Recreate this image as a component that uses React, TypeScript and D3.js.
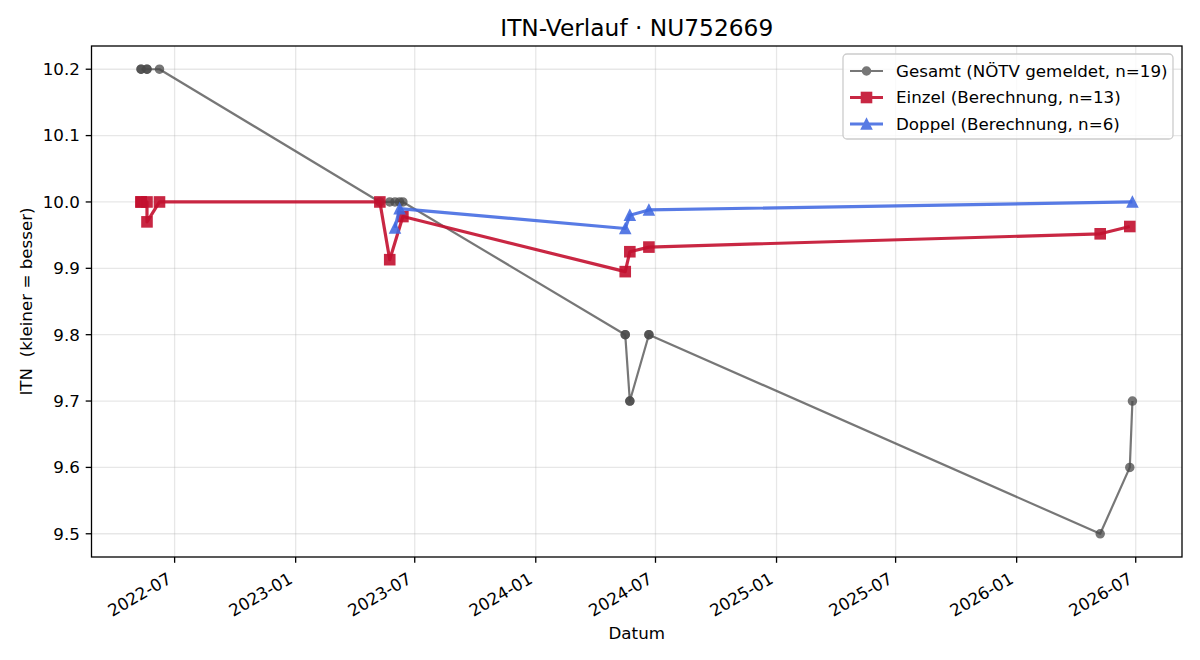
import React, { useEffect, useRef } from "react";
import * as d3 from "d3";

// Gesamt: ITN as reported by the federation, one entry per match
const gesamtDates = [
  "2022-05-11", "2022-05-11", "2022-05-20", "2022-05-20", "2022-06-08",
  "2023-05-09", "2023-05-24", "2023-06-01", "2023-06-08", "2023-06-13",
  "2024-05-16", "2024-05-16", "2024-05-23", "2024-05-23", "2024-06-21", "2024-06-21",
  "2026-05-08", "2026-06-22", "2026-06-26",
];
const gesamtValues = [
  10.2, 10.2, 10.2, 10.2, 10.2,
  10.0, 10.0, 10.0, 10.0, 10.0,
  9.8, 9.8, 9.7, 9.7, 9.8, 9.8,
  9.5, 9.6, 9.7,
];

// Einzel: own calculation for singles
const einzelDates = [
  "2022-05-11", "2022-05-11", "2022-05-20", "2022-05-20", "2022-06-08",
  "2023-05-09", "2023-05-24", "2023-06-13",
  "2024-05-16", "2024-05-23", "2024-06-21",
  "2026-05-08", "2026-06-22",
];
const einzelValues = [
  10.0, 10.0, 10.0, 9.97, 10.0,
  10.0, 9.913, 9.978,
  9.895, 9.925, 9.932,
  9.952, 9.963,
];

// Doppel: own calculation for doubles
const doppelDates = ["2023-06-01", "2023-06-08", "2024-05-16", "2024-05-23", "2024-06-21", "2026-06-26"];
const doppelValues = [9.961, 9.99, 9.96, 9.98, 9.988, 10.0];

const yTicks = [9.5, 9.6, 9.7, 9.8, 9.9, 10.0, 10.1, 10.2];

const seriesLabels = [
  "Gesamt (NÖTV gemeldet, n=19)",
  "Einzel (Berechnung, n=13)",
  "Doppel (Berechnung, n=6)",
];

const WIDTH = 1200;
const HEIGHT = 660;
const FONT = "DejaVu Sans, sans-serif";

const App = () => {
  const chart = useRef<SVGSVGElement>(null);

  useEffect(() => {
    const parse = d3.timeParse("%Y-%m-%d");
    const toPoints = (dates: string[], values: number[]) =>
      dates.map((d, i) => ({ date: parse(d) as Date, value: values[i] }));

    const gesamt = toPoints(gesamtDates, gesamtValues);
    const einzel = toPoints(einzelDates, einzelValues);
    const doppel = toPoints(doppelDates, doppelValues);

    const margin = { left: 91.5, right: 18, top: 46, bottom: 103 };
    const x0 = margin.left;
    const x1 = WIDTH - margin.right;
    const y0 = margin.top;
    const y1 = HEIGHT - margin.bottom;

    // 5% padding on both axes, the usual matplotlib margins
    const allDates = [...gesamt, ...einzel, ...doppel].map((d) => +d.date);
    const [dMin, dMax] = d3.extent(allDates) as [number, number];
    const dPad = (dMax - dMin) * 0.05;
    const x = d3
      .scaleTime()
      .domain([new Date(dMin - dPad), new Date(dMax + dPad)])
      .range([x0, x1]);

    const allValues = [...gesamtValues, ...einzelValues, ...doppelValues];
    const [vMin, vMax] = d3.extent(allValues) as [number, number];
    const vPad = (vMax - vMin) * 0.05;
    const y = d3.scaleLinear().domain([vMin - vPad, vMax + vPad]).range([y1, y0]);

    const svg = d3.select(chart.current);
    svg.selectAll("*").remove();
    svg.attr("font-family", FONT);

    svg.append("rect").attr("width", WIDTH).attr("height", HEIGHT).attr("fill", "#fff");

    const xTicks = x.ticks(d3.timeMonth.every(6) as d3.TimeInterval);

    // Grid
    const grid = svg.append("g").attr("stroke", "#b0b0b0").attr("stroke-opacity", 0.3).attr("stroke-width", 1.3);
    grid
      .selectAll("line.gx")
      .data(xTicks)
      .join("line")
      .attr("x1", (d) => x(d))
      .attr("x2", (d) => x(d))
      .attr("y1", y0)
      .attr("y2", y1);
    grid
      .selectAll("line.gy")
      .data(yTicks)
      .join("line")
      .attr("class", "gy")
      .attr("x1", x0)
      .attr("x2", x1)
      .attr("y1", (d) => y(d))
      .attr("y2", (d) => y(d));

    const plot = svg.append("g");

    // Gesamt
    const gesamtColor = "#4a4a4a";
    plot
      .append("path")
      .datum(gesamt)
      .attr("fill", "none")
      .attr("stroke", gesamtColor)
      .attr("stroke-opacity", 0.75)
      .attr("stroke-width", 2.2)
      .attr("stroke-linejoin", "round")
      .attr("d", d3.line<any>().x((d) => x(d.date)).y((d) => y(d.value)));
    plot
      .append("g")
      .selectAll("circle")
      .data(gesamt)
      .join("circle")
      .attr("cx", (d) => x(d.date))
      .attr("cy", (d) => y(d.value))
      .attr("r", 4)
      .attr("fill", gesamtColor)
      .attr("stroke", gesamtColor)
      .attr("stroke-width", 1.5)
      .attr("opacity", 0.75);

    // Einzel
    const einzelColor = "#c3102f";
    plot
      .append("path")
      .datum(einzel)
      .attr("fill", "none")
      .attr("stroke", einzelColor)
      .attr("stroke-opacity", 0.9)
      .attr("stroke-width", 3.2)
      .attr("stroke-linejoin", "round")
      .attr("d", d3.line<any>().x((d) => x(d.date)).y((d) => y(d.value)));
    plot
      .append("g")
      .selectAll("rect")
      .data(einzel)
      .join("rect")
      .attr("x", (d) => x(d.date) - 5)
      .attr("y", (d) => y(d.value) - 5)
      .attr("width", 10)
      .attr("height", 10)
      .attr("fill", einzelColor)
      .attr("stroke", einzelColor)
      .attr("stroke-width", 1.6)
      .attr("opacity", 0.9);

    // Doppel
    const doppelColor = "#4169e1";
    const tri = (cx: number, cy: number, s: number) =>
      `M${cx},${cy - s}L${cx - s},${cy + s}L${cx + s},${cy + s}Z`;
    plot
      .append("path")
      .datum(doppel)
      .attr("fill", "none")
      .attr("stroke", doppelColor)
      .attr("stroke-opacity", 0.88)
      .attr("stroke-width", 3.2)
      .attr("stroke-linejoin", "round")
      .attr("d", d3.line<any>().x((d) => x(d.date)).y((d) => y(d.value)));
    plot
      .append("g")
      .selectAll("path")
      .data(doppel)
      .join("path")
      .attr("d", (d) => tri(x(d.date), y(d.value), 5))
      .attr("fill", doppelColor)
      .attr("stroke", doppelColor)
      .attr("stroke-width", 1.6)
      .attr("stroke-linejoin", "miter")
      .attr("opacity", 0.88);

    // Frame
    svg
      .append("rect")
      .attr("x", x0)
      .attr("y", y0)
      .attr("width", x1 - x0)
      .attr("height", y1 - y0)
      .attr("fill", "none")
      .attr("stroke", "#000")
      .attr("stroke-width", 1.3);

    // X axis ticks and rotated labels
    const tickLen = 5.8;
    const pad = 5.8;
    const xAxis = svg.append("g");
    xAxis
      .selectAll("line")
      .data(xTicks)
      .join("line")
      .attr("x1", (d) => x(d))
      .attr("x2", (d) => x(d))
      .attr("y1", y1)
      .attr("y2", y1 + tickLen)
      .attr("stroke", "#000")
      .attr("stroke-width", 1.3);
    const fmt = d3.timeFormat("%Y-%m");
    xAxis
      .selectAll("text")
      .data(xTicks)
      .join("text")
      .attr("transform", (d) => `translate(${x(d) - 2},${y1 + tickLen + pad + 13.5}) rotate(-30)`)
      .attr("text-anchor", "end")
      .attr("font-size", 16.7)
      .attr("fill", "#000")
      .text((d) => fmt(d));

    // Y axis ticks and labels
    const yAxis = svg.append("g");
    yAxis
      .selectAll("line")
      .data(yTicks)
      .join("line")
      .attr("x1", x0 - tickLen)
      .attr("x2", x0)
      .attr("y1", (d) => y(d))
      .attr("y2", (d) => y(d))
      .attr("stroke", "#000")
      .attr("stroke-width", 1.3);
    yAxis
      .selectAll("text")
      .data(yTicks)
      .join("text")
      .attr("x", x0 - tickLen - pad)
      .attr("y", (d) => y(d))
      .attr("dy", "0.35em")
      .attr("text-anchor", "end")
      .attr("font-size", 16.7)
      .attr("fill", "#000")
      .text((d) => d3.format(".1f")(d));

    // Titles
    svg
      .append("text")
      .attr("x", (x0 + x1) / 2)
      .attr("y", 36)
      .attr("text-anchor", "middle")
      .attr("font-size", 23.3)
      .text("ITN-Verlauf · NU752669");
    svg
      .append("text")
      .attr("x", (x0 + x1) / 2)
      .attr("y", 639)
      .attr("text-anchor", "middle")
      .attr("font-size", 16.7)
      .text("Datum");
    svg
      .append("text")
      .attr("transform", `translate(32,${(y0 + y1) / 2}) rotate(-90)`)
      .attr("text-anchor", "middle")
      .attr("font-size", 16.7)
      .style("white-space", "pre")
      .text("ITN  (kleiner = besser)");

    // Legend
    const lg = svg.append("g").attr("transform", "translate(843,54)");
    lg.append("rect")
      .attr("width", 330)
      .attr("height", 85)
      .attr("rx", 4)
      .attr("fill", "#fff")
      .attr("fill-opacity", 0.8)
      .attr("stroke", "#cccccc")
      .attr("stroke-width", 1.3);
    const legendColors = [gesamtColor, einzelColor, doppelColor];
    const legendOpacity = [0.75, 0.9, 0.88];
    const legendWidths = [2.2, 3.2, 3.2];
    seriesLabels.forEach((label, i) => {
      const cy = 17 + i * 26.5;
      const row = lg.append("g").attr("opacity", legendOpacity[i]);
      row
        .append("line")
        .attr("x1", 7)
        .attr("x2", 40)
        .attr("y1", cy)
        .attr("y2", cy)
        .attr("stroke", legendColors[i])
        .attr("stroke-width", legendWidths[i]);
      const mx = 23.5;
      if (i === 0) {
        row.append("circle").attr("cx", mx).attr("cy", cy).attr("r", 4)
          .attr("fill", legendColors[i]).attr("stroke", legendColors[i]).attr("stroke-width", 1.5);
      } else if (i === 1) {
        row.append("rect").attr("x", mx - 5).attr("y", cy - 5).attr("width", 10).attr("height", 10)
          .attr("fill", legendColors[i]).attr("stroke", legendColors[i]).attr("stroke-width", 1.6);
      } else {
        row.append("path").attr("d", tri(mx, cy, 5))
          .attr("fill", legendColors[i]).attr("stroke", legendColors[i]).attr("stroke-width", 1.6);
      }
      lg.append("text")
        .attr("x", 53)
        .attr("y", cy)
        .attr("dy", "0.35em")
        .attr("font-size", 16.7)
        .attr("fill", "#000")
        .text(label);
    });
  }, []);

  return (
    <div>
      <svg
        ref={chart}
        width={WIDTH}
        height={HEIGHT}
        style={{ position: "absolute", left: 0, top: 0, display: "block" }}
      ></svg>
    </div>
  );
};

export default App;
